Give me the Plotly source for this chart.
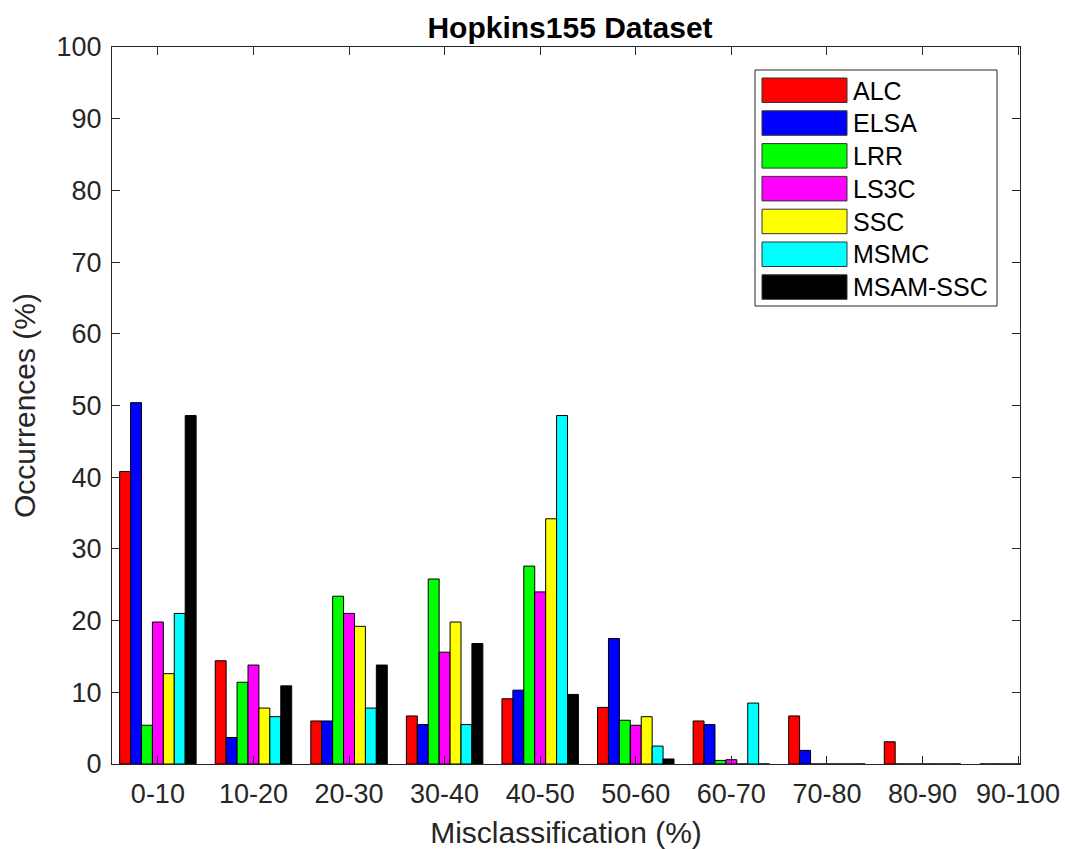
import plotly.graph_objects as go

# Misclassification bins (x categories)
categories = ["0-10", "10-20", "20-30", "30-40", "40-50",
              "50-60", "60-70", "70-80", "80-90", "90-100"]

# Occurrences (%) per method
methods = ["ALC", "ELSA", "LRR", "LS3C", "SSC", "MSMC", "MSAM-SSC"]
alc = [40.8, 14.4, 6.0, 6.7, 9.1, 7.9, 6.0, 6.7, 3.1, 0]
elsa = [50.4, 3.7, 6.0, 5.5, 10.3, 17.5, 5.5, 1.9, 0, 0]
lrr = [5.4, 11.4, 23.4, 25.8, 27.6, 6.1, 0.5, 0, 0, 0]
ls3c = [19.8, 13.8, 21.0, 15.6, 24.0, 5.4, 0.6, 0, 0, 0]
ssc = [12.6, 7.8, 19.2, 19.8, 34.2, 6.6, 0, 0, 0, 0]
msmc = [21.0, 6.6, 7.8, 5.5, 48.6, 2.5, 8.5, 0, 0, 0]
msam_ssc = [48.6, 10.9, 13.8, 16.8, 9.7, 0.7, 0, 0, 0, 0]

series = [alc, elsa, lrr, ls3c, ssc, msmc, msam_ssc]
colors = ["#ff0000", "#0000ff", "#00ff00", "#ff00ff", "#ffff00", "#00ffff", "#000000"]

FONT = "Liberation Sans, Arial, sans-serif"
AXIS_COLOR = "#262626"

fig = go.Figure()
for name, vals, col in zip(methods, series, colors):
    fig.add_trace(go.Bar(
        x=categories, y=vals, name=name,
        marker=dict(color=col, line=dict(color="#000000", width=1)),
        showlegend=False,
    ))

# Boxed legend with wide swatches (drawn in paper coordinates)
W, H = 1065, 849
L, R, T, B = 112, 45, 47, 85
pw, ph = W - L - R, H - T - B


def px_x(x):
    return (x - L) / pw


def px_y(y):
    return (H - B - y) / ph


shapes = [dict(type="rect", xref="paper", yref="paper",
               x0=px_x(755), x1=px_x(997), y0=px_y(306), y1=px_y(70),
               line=dict(color=AXIS_COLOR, width=1), fillcolor="white", layer="above")]
annotations = []
for k, (name, col) in enumerate(zip(methods, colors)):
    top = 78 + 32.8 * k
    shapes.append(dict(type="rect", xref="paper", yref="paper",
                       x0=px_x(762), x1=px_x(847), y0=px_y(top + 24.5), y1=px_y(top),
                       line=dict(color="#333333", width=1), fillcolor=col, layer="above"))
    annotations.append(dict(xref="paper", yref="paper", x=px_x(851), y=px_y(top + 12.5),
                            text=name, showarrow=False, xanchor="left", yanchor="middle",
                            font=dict(family=FONT, size=25, color="#000000")))

fig.update_layout(
    width=W, height=H,
    margin=dict(l=L, r=R, t=T, b=B),
    paper_bgcolor="white", plot_bgcolor="white",
    barmode="group", bargap=0.2, bargroupgap=0,
    font=dict(family=FONT, color=AXIS_COLOR),
    title=dict(text="<b>Hopkins155 Dataset</b>", x=570 / W,
               xanchor="center", y=1 - 27 / H, yanchor="middle",
               font=dict(family=FONT, size=30, color="#000000")),
    shapes=shapes, annotations=annotations,
)

fig.update_xaxes(
    range=[-0.48, 9.02], showline=True, linecolor=AXIS_COLOR, linewidth=1,
    mirror="ticks", ticks="inside", ticklen=8, tickcolor=AXIS_COLOR,
    ticklabelstandoff=6, automargin=False,
    tickfont=dict(family=FONT, size=27, color=AXIS_COLOR),
    title=dict(text="Misclassification (%)", font=dict(family=FONT, size=30, color=AXIS_COLOR),
               standoff=14),
    showgrid=False, zeroline=False,
)
fig.update_yaxes(
    range=[0, 100], dtick=10, showline=True, linecolor=AXIS_COLOR, linewidth=1,
    mirror="ticks", ticks="inside", ticklen=8, tickcolor=AXIS_COLOR,
    ticklabelstandoff=4, automargin=False,
    tickfont=dict(family=FONT, size=27, color=AXIS_COLOR),
    title=dict(text="Occurrences (%)", font=dict(family=FONT, size=30, color=AXIS_COLOR),
               standoff=12),
    showgrid=False, zeroline=False,
)

fig.write_html("out.html")
